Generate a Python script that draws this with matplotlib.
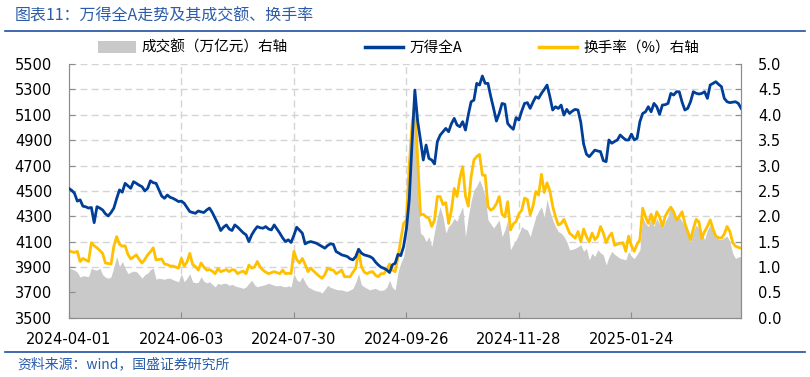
import matplotlib
matplotlib.use('Agg')
import matplotlib.pyplot as plt
from matplotlib.patches import Patch
from matplotlib.lines import Line2D

plt.rcParams['font.family'] = ['Noto Sans CJK SC', 'DejaVu Sans']

# 交易日序号上的刻度标签（每40个交易日）
tick_labels = ['2024-04-01', '2024-06-03', '2024-07-30', '2024-09-26', '2024-11-28', '2025-01-24']

# 万得全A 收盘点位（左轴）
wind_a = [
    4520, 4505, 4482, 4420, 4430, 4380, 4375, 4365, 4370, 4250,
    4376, 4365, 4350, 4320, 4303, 4330, 4365, 4440, 4508, 4490,
    4560, 4540, 4521, 4573, 4560, 4545, 4534, 4500, 4520, 4580,
    4565, 4560, 4510, 4460, 4442, 4468, 4450, 4442, 4430, 4416,
    4420, 4403, 4370, 4337, 4330, 4324, 4342, 4335, 4330, 4350,
    4365, 4330, 4285, 4240, 4188, 4215, 4232, 4200, 4188, 4232,
    4215, 4193, 4170, 4154, 4101, 4154, 4190, 4219, 4210, 4206,
    4219, 4200, 4193, 4232, 4200, 4167, 4130, 4101, 4115, 4094,
    4150, 4214, 4190, 4167, 4083, 4095, 4101, 4095, 4088, 4075,
    4062, 4049, 4070, 4083, 4080, 4022, 4010, 3996, 3990, 3983,
    3965, 3957, 3983, 4041, 4010, 3996, 3990, 3983, 3970, 3940,
    3917, 3899, 3890, 3878, 3857, 3917, 3930, 4000, 3990, 4062,
    4200, 4430, 4876, 5295, 5050, 4902, 4744, 4862, 4757, 4744,
    4713, 4889, 4940, 4967, 4993, 4967, 5030, 5072, 5020, 5006,
    5046, 4980, 5100, 5203, 5216, 5348, 5335, 5406, 5348, 5348,
    5243, 5150, 5051, 5111, 5190, 5183, 5032, 5006, 4986, 5078,
    5059, 5130, 5190, 5196, 5151, 5200, 5243, 5230, 5269, 5300,
    5335, 5243, 5138, 5164, 5150, 5177, 5098, 5143, 5111, 5130,
    5143, 5138, 5040, 4870, 4790, 4770, 4796, 4822, 4815, 4810,
    4739, 4731, 4902, 4876, 4890, 4902, 4941, 4920, 4902, 4902,
    4948, 4902, 4915, 5046, 5111, 5124, 5164, 5124, 5190, 5164,
    5104, 5177, 5180, 5190, 5269, 5256, 5282, 5282, 5200, 5138,
    5151, 5203, 5282, 5270, 5264, 5269, 5282, 5230, 5335, 5348,
    5361, 5340, 5322, 5230, 5203, 5196, 5200, 5203, 5190, 5151,
]

# 换手率（%，右轴）
turnover = [
    1.33, 1.30, 1.29, 1.31, 1.11, 1.17, 1.14, 1.11, 1.48, 1.42,
    1.38, 1.33, 1.27, 1.08, 1.07, 1.06, 1.41, 1.60, 1.45, 1.41,
    1.42, 1.25, 1.16, 1.20, 1.24, 1.15, 1.08, 1.15, 1.24, 1.30,
    1.38, 1.14, 1.15, 1.16, 1.06, 1.05, 1.02, 1.02, 1.00, 0.98,
    1.17, 1.02, 1.10, 1.27, 1.05, 1.01, 0.94, 1.08, 1.00, 0.94,
    0.95, 0.92, 0.87, 0.97, 0.91, 0.93, 0.95, 0.91, 0.95, 0.94,
    0.87, 0.90, 0.92, 0.87, 1.04, 0.98, 1.00, 1.11, 1.00, 0.94,
    0.90, 0.87, 0.89, 0.91, 0.89, 0.87, 0.94, 0.87, 0.88, 0.87,
    1.31, 1.15, 1.08, 1.17, 1.05, 0.91, 0.98, 0.92, 0.87, 0.82,
    0.78, 0.85, 0.98, 0.95, 0.94, 0.87, 0.90, 0.94, 0.81, 0.81,
    0.81, 0.90, 0.98, 1.33, 1.01, 0.90, 0.87, 0.90, 0.91, 0.84,
    0.81, 0.87, 0.87, 0.95, 1.06, 0.94, 0.91, 1.20, 1.54, 1.86,
    1.93, 3.00, 3.80, 4.23, 3.11, 2.03, 2.04, 1.99, 1.96, 1.80,
    1.93, 2.39, 2.39, 2.23, 2.27, 1.86, 2.12, 2.55, 2.39, 2.75,
    2.98, 2.40, 2.20, 2.78, 3.11, 3.18, 3.22, 2.81, 2.81, 2.19,
    2.12, 2.16, 2.25, 2.39, 2.04, 1.99, 2.29, 1.73, 1.85, 1.90,
    2.05, 2.12, 2.36, 2.33, 2.03, 2.20, 2.49, 2.42, 2.83, 2.47,
    2.66, 2.50, 2.20, 1.99, 1.83, 1.86, 1.94, 1.80, 1.67, 1.62,
    1.57, 1.70, 1.50, 1.75, 1.60, 1.50, 1.67, 1.54, 1.60, 1.80,
    1.67, 1.48, 1.60, 1.67, 1.43, 1.45, 1.47, 1.48, 1.31, 1.61,
    1.42, 1.31, 1.45, 1.54, 2.16, 1.99, 1.86, 2.04, 1.86, 2.09,
    1.99, 1.80, 2.00, 2.10, 2.18, 2.09, 1.93, 2.00, 2.09, 1.86,
    1.70, 1.54, 1.75, 1.94, 1.89, 1.57, 1.70, 1.80, 1.93, 1.75,
    1.61, 1.58, 1.57, 1.65, 1.80, 1.70, 1.48, 1.41, 1.39, 1.37,
]

# 成交额（万亿元，右轴）
amount = [
    0.98, 0.96, 0.94, 0.90, 0.80, 0.83, 0.82, 0.81, 0.98, 0.95,
    0.94, 0.98, 0.85, 0.80, 0.78, 0.81, 1.00, 1.21, 1.01, 1.11,
    0.98, 0.87, 0.90, 0.92, 0.91, 0.85, 0.78, 0.85, 0.88, 0.95,
    0.98, 0.76, 0.78, 0.77, 0.76, 0.78, 0.78, 0.75, 0.73, 0.71,
    0.87, 0.71, 0.78, 0.87, 0.71, 0.69, 0.70, 0.81, 0.72, 0.69,
    0.71, 0.66, 0.61, 0.68, 0.66, 0.68, 0.68, 0.64, 0.66, 0.63,
    0.61, 0.60, 0.58, 0.61, 0.68, 0.74, 0.65, 0.61, 0.63, 0.64,
    0.66, 0.68, 0.66, 0.64, 0.63, 0.64, 0.62, 0.61, 0.63, 0.61,
    0.87, 0.75, 0.71, 0.81, 0.70, 0.61, 0.58, 0.55, 0.53, 0.51,
    0.49, 0.56, 0.64, 0.60, 0.58, 0.56, 0.55, 0.55, 0.53, 0.52,
    0.55, 0.58, 0.70, 0.87, 0.65, 0.61, 0.58, 0.55, 0.57, 0.58,
    0.55, 0.54, 0.55, 0.60, 0.74, 0.60, 0.55, 0.90, 1.08, 1.21,
    1.54, 2.78, 3.60, 4.13, 2.45, 1.67, 1.62, 1.50, 1.60, 1.40,
    1.70, 1.99, 2.19, 1.99, 1.67, 1.80, 1.86, 1.96, 1.90, 2.06,
    2.19, 1.60, 1.99, 2.30, 2.52, 2.60, 2.72, 2.58, 2.40, 1.93,
    1.85, 1.77, 1.85, 1.93, 1.60, 1.73, 1.93, 1.34, 1.45, 1.54,
    1.65, 1.80, 1.75, 1.73, 1.60, 1.80, 1.99, 2.10, 2.19, 1.99,
    2.33, 2.10, 1.93, 1.80, 1.70, 1.67, 1.60, 1.50, 1.34, 1.35,
    1.37, 1.40, 1.44, 1.31, 1.37, 1.14, 1.27, 1.21, 1.34, 1.28,
    1.24, 1.04, 1.20, 1.31, 1.25, 1.21, 1.17, 1.16, 1.14, 1.31,
    1.21, 1.17, 1.25, 1.34, 1.99, 1.86, 1.80, 1.96, 1.80, 1.96,
    1.85, 1.77, 1.90, 2.00, 2.22, 2.05, 1.93, 1.99, 1.90, 1.80,
    1.65, 1.50, 1.70, 1.83, 1.75, 1.67, 1.54, 1.73, 1.83, 1.70,
    1.61, 1.55, 1.54, 1.58, 1.61, 1.50, 1.27, 1.17, 1.20, 1.21,
]

BLUE = '#003e97'
YELLOW = '#ffc000'
GRAY = '#c9c9c9'
GRID = '#d4d4d4'

x = list(range(len(wind_a)))
tick_pos = [i * 40 for i in range(len(tick_labels))]

fig = plt.figure(figsize=(8.1, 3.77), dpi=100)
ax = fig.add_axes([0.085, 0.157, 0.83, 0.673])
ax2 = ax.twinx()
# 右轴（面积、换手率）放在下层，万得全A在上层
ax.set_zorder(ax2.get_zorder() + 1)
ax.patch.set_visible(False)

ax2.fill_between(x, amount, 0, color=GRAY, lw=0, zorder=1)
ax2.plot(x, turnover, color=YELLOW, lw=2.0, zorder=2)
ax.plot(x, wind_a, color=BLUE, lw=2.0, zorder=3)

ax.set_xlim(0, 239)
ax.set_ylim(3500, 5500)
ax2.set_ylim(0, 5)
ax.set_yticks(range(3500, 5501, 200))
ax2.set_yticks([i * 0.5 for i in range(11)])
ax2.set_yticklabels([f'{i * 0.5:.1f}' for i in range(11)])
ax.set_xticks(tick_pos)
ax.set_xticklabels(tick_labels)

# 虚线网格
ax2.grid(axis='y', color=GRID, ls=(0, (5, 3)), lw=1)
ax2.set_axisbelow(True)
for p in tick_pos[1:]:
    ax2.axvline(p, color=GRID, ls=(0, (5, 3)), lw=1, zorder=0)

for a in (ax, ax2):
    a.spines['top'].set_visible(False)
    for s in ('left', 'right', 'bottom'):
        a.spines[s].set_color('#8c8c8c')
    a.tick_params(direction='in', length=4, color='#8c8c8c', labelsize=10.5, pad=12)
    for lab in a.get_xticklabels() + a.get_yticklabels():
        lab.set_fontfamily('DejaVu Sans')
ax.tick_params(axis='x', pad=10)

handles = [
    Patch(facecolor=GRAY, edgecolor='none'),
    Line2D([], [], color=BLUE, lw=2.5),
    Line2D([], [], color=YELLOW, lw=2.5),
]
labels = ['成交额（万亿元）右轴', '万得全A', '换手率（%）右轴']
fig.legend(handles, labels, loc='center left', bbox_to_anchor=(0.105, 0.873),
           ncol=3, frameon=False, fontsize=10.5, handlelength=2.6,
           handleheight=0.8, handletextpad=0.4, columnspacing=5.3)

# 标题与来源
fig.text(0.018, 0.957, '图表11：万得全A走势及其成交额、换手率', color='#2a5caa',
         fontsize=11.5, style='italic', va='center', ha='left')
fig.add_artist(Line2D([0.006, 0.994], [0.918, 0.918], color='#1f4fa0', lw=1.2))
fig.add_artist(Line2D([0.006, 0.994], [0.067, 0.067], color='#1f4fa0', lw=1.2))
fig.text(0.022, 0.035, '资料来源：wind，国盛证券研究所', color='#2a5caa',
         fontsize=10, style='italic', va='center', ha='left')

fig.savefig('out.png', dpi=100)
